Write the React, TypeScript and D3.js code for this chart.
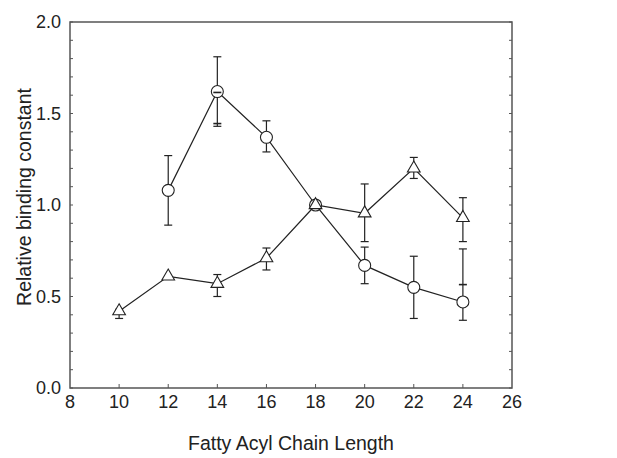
import React, { useEffect, useRef } from 'react';
import * as d3 from 'd3';

// chain lengths
const circleX = [12, 14, 16, 18, 20, 22, 24];
const circleY = [1.08, 1.62, 1.37, 1.0, 0.67, 0.55, 0.47];
const circleLo = [0.89, 1.43, 1.29, 1.0, 0.57, 0.38, 0.37];
const circleHi = [1.27, 1.81, 1.46, 1.0, 0.77, 0.72, 0.76];

const triX = [10, 12, 14, 16, 18, 20, 22, 24];
const triY = [0.42, 0.61, 0.57, 0.71, 1.0, 0.955, 1.2, 0.93];
const triLo = [0.38, 0.61, 0.5, 0.645, 1.0, 0.8, 1.145, 0.8];
const triHi = [0.43, 0.61, 0.62, 0.765, 1.0, 1.115, 1.26, 1.04];

// stray caps left over in the original figure
const strayX = [14, 14, 24];
const strayY = [1.445, 1.615, 0.565];

const xTicks = [8, 10, 12, 14, 16, 18, 20, 22, 24, 26];
const yTicks = [0, 0.5, 1.0, 1.5, 2.0];

function App() {
  const ref = useRef<SVGSVGElement>(null);

  useEffect(() => {
    const svg = d3.select(ref.current);
    svg.selectAll('*').remove();

    const left = 70, right = 512, top = 22, bottom = 388;
    const x = d3.scaleLinear().domain([8, 26]).range([left, right]);
    const y = d3.scaleLinear().domain([0, 2]).range([bottom, top]);
    const axisColor = '#555';
    const ink = '#222';

    // frame
    svg.append('rect')
      .attr('x', left).attr('y', top)
      .attr('width', right - left).attr('height', bottom - top)
      .attr('fill', 'none').attr('stroke', axisColor).attr('stroke-width', 1.5);

    // y ticks (inward, both sides)
    const yMinor = d3.range(0, 2.01, 0.1);
    const gy = svg.append('g');
    yMinor.forEach(v => {
      gy.append('line').attr('x1', left).attr('x2', left + 3)
        .attr('y1', y(v)).attr('y2', y(v)).attr('stroke', axisColor);
      gy.append('line').attr('x1', right).attr('x2', right - 3)
        .attr('y1', y(v)).attr('y2', y(v)).attr('stroke', axisColor);
    });
    yTicks.forEach(v => {
      gy.append('text')
        .attr('x', left - 9).attr('y', y(v))
        .attr('dy', '0.36em')
        .attr('text-anchor', 'end')
        .attr('font-size', 18)
        .attr('fill', '#222')
        .text(d3.format('.1f')(v));
    });

    // x ticks
    const gx = svg.append('g');
    xTicks.forEach(v => {
      if (v > 8 && v < 26) {
        gx.append('line').attr('x1', x(v)).attr('x2', x(v))
          .attr('y1', bottom).attr('y2', bottom - 4).attr('stroke', axisColor);
      }
      gx.append('text')
        .attr('x', x(v)).attr('y', bottom + 20)
        .attr('text-anchor', 'middle')
        .attr('font-size', 18)
        .attr('fill', '#222')
        .text(v);
    });

    // axis titles
    svg.append('text')
      .attr('x', 291).attr('y', 450)
      .attr('text-anchor', 'middle')
      .attr('font-size', 19.5)
      .attr('fill', '#222')
      .text('Fatty Acyl Chain Length');
    svg.append('text')
      .attr('transform', 'translate(31,197) rotate(-90)')
      .attr('text-anchor', 'middle')
      .attr('font-size', 19.5)
      .attr('fill', '#222')
      .text('Relative binding constant');

    const line = d3.line<[number, number]>().x(d => x(d[0])).y(d => y(d[1]));

    const drawErr = (xs: number[], lo: number[], hi: number[]) => {
      const g = svg.append('g').attr('stroke', ink).attr('stroke-width', 1.2);
      xs.forEach((v, i) => {
        if (hi[i] - lo[i] < 0.005) return;
        g.append('line').attr('x1', x(v)).attr('x2', x(v))
          .attr('y1', y(lo[i])).attr('y2', y(hi[i]));
        [lo[i], hi[i]].forEach(e => {
          g.append('line').attr('x1', x(v) - 4).attr('x2', x(v) + 4)
            .attr('y1', y(e)).attr('y2', y(e));
        });
      });
    };

    drawErr(circleX, circleLo, circleHi);
    drawErr(triX, triLo, triHi);

    svg.append('path')
      .datum(circleX.map((v, i) => [v, circleY[i]] as [number, number]))
      .attr('d', line).attr('fill', 'none').attr('stroke', ink).attr('stroke-width', 1.2);
    svg.append('path')
      .datum(triX.map((v, i) => [v, triY[i]] as [number, number]))
      .attr('d', line).attr('fill', 'none').attr('stroke', ink).attr('stroke-width', 1.2);

    svg.append('g').selectAll('circle')
      .data(circleX.map((v, i) => [v, circleY[i]]))
      .join('circle')
      .attr('cx', d => x(d[0])).attr('cy', d => y(d[1]))
      .attr('r', 6)
      .attr('fill', 'white').attr('stroke', ink).attr('stroke-width', 1.1);

    const tri = d3.symbol().type(d3.symbolTriangle).size(70);
    svg.append('g').selectAll('path')
      .data(triX.map((v, i) => [v, triY[i]]))
      .join('path')
      .attr('d', tri)
      .attr('transform', d => `translate(${x(d[0])},${y(d[1])})`)
      .attr('fill', 'white').attr('stroke', ink).attr('stroke-width', 1.1);

    svg.append('g').attr('stroke', ink).attr('stroke-width', 1.6)
      .selectAll('line')
      .data(strayX.map((v, i) => [v, strayY[i]]))
      .join('line')
      .attr('x1', d => x(d[0]) - 4).attr('x2', d => x(d[0]) + 4)
      .attr('y1', d => y(d[1])).attr('y2', d => y(d[1]));
  }, []);

  return (
    <svg ref={ref} width={617} height={458}
      style={{ position: 'absolute', left: 0, top: 0, fontFamily: '"Liberation Sans", Arial, sans-serif', background: 'white' }} />
  );
}

export default App;
